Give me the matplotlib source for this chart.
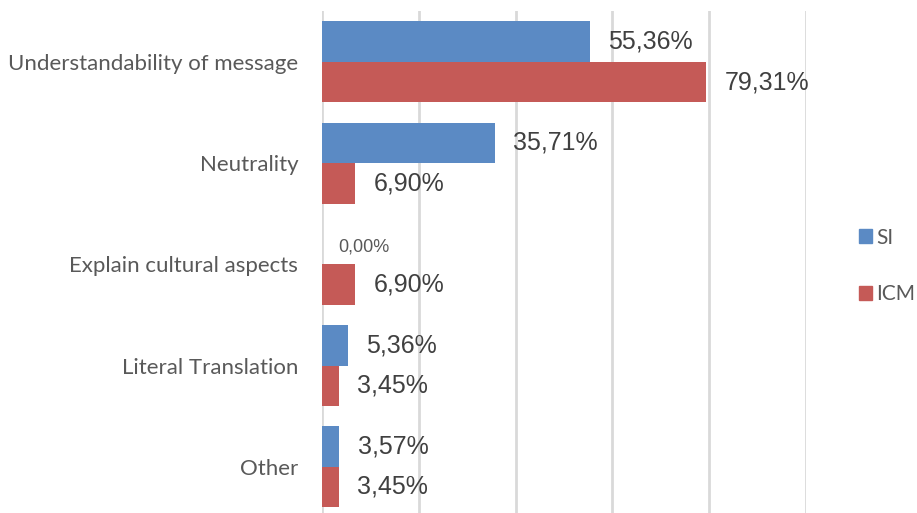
import numpy as np
import matplotlib.pyplot as plt
from matplotlib.patches import Patch

# data
categorias = ['Understandability of message', 'Neutrality', 'Explain cultural aspects',
              'Literal Translation', 'Other']
si = [55.36, 35.71, 0.00, 5.36, 3.57]
icm = [79.31, 6.90, 6.90, 3.45, 3.45]
series = ['SI', 'ICM']

azul = '#5B8AC4'
vermelho = '#C55A57'

fig = plt.figure(figsize=(9.17, 5.13), dpi=100)
ax = fig.add_axes([0.351, -0.0084, 0.528, 0.9864])

y = np.arange(len(categorias))
h = 0.4
ax.barh(y - h/2, si, height=h, color=azul)
ax.barh(y + h/2, icm, height=h, color=vermelho)

def fmt(v):
    return ('%.2f%%' % v).replace('.', ',')

for i in range(len(categorias)):
    for val, off in ((si[i], -h/2), (icm[i], h/2)):
        if val == 0:
            ax.text(val + 3.4, y[i] + off + 0.03, fmt(val), va='center', ha='left',
                    fontsize=13, color='#595959', family='Liberation Sans')
        else:
            ax.text(val + 3.8, y[i] + off, fmt(val), va='center', ha='left',
                    fontsize=18, color='#404040', family='Liberation Sans')

ax.set_xlim(0, 100)
ax.set_ylim(len(categorias) - 0.5, -0.5)
ax.set_xticks([0, 20, 40, 60, 80, 100])
ax.set_xticklabels([])
ax.tick_params(axis='x', length=0)
ax.tick_params(axis='y', length=0, pad=17)
ax.set_yticks(y)
ax.set_yticklabels(categorias, fontsize=16, color='#595959', family='Lato')
ax.grid(axis='x', color='#D9D9D9', linewidth=2)
ax.set_axisbelow(True)
for s in ax.spines.values():
    s.set_visible(False)

handles = [Patch(color=azul), Patch(color=vermelho)]
leg = ax.legend(handles, series, loc='center left', bbox_to_anchor=(1.07, 0.497),
                frameon=False, handlelength=0.65, handleheight=0.65, handletextpad=0.2,
                labelspacing=1.75, prop={'family': 'Lato', 'size': 15})
for t in leg.get_texts():
    t.set_color('#595959')

fig.savefig('out.png', dpi=100)
